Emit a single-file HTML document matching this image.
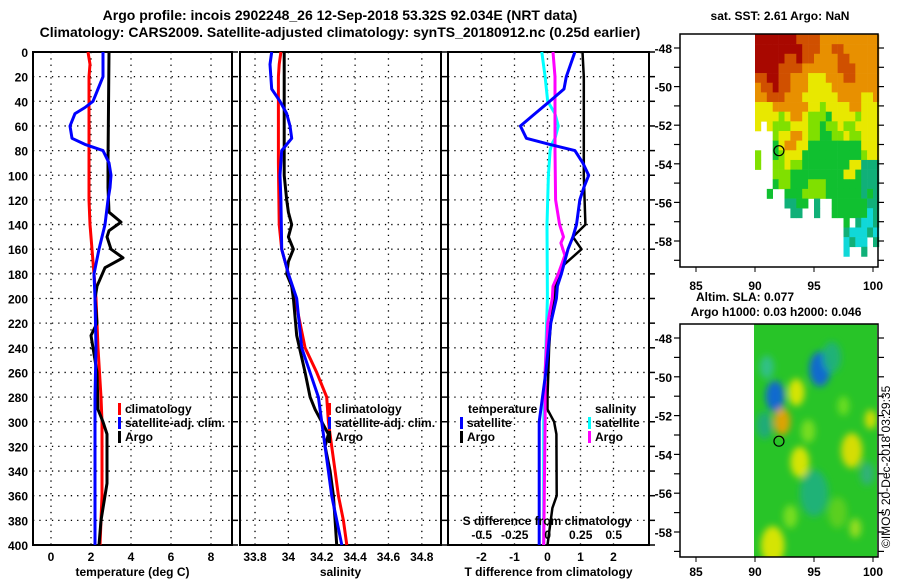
<!DOCTYPE html>
<html><head><meta charset="utf-8"><style>
html,body{margin:0;padding:0;background:#fff}
svg{display:block;font-family:"Liberation Sans",Arial,sans-serif;font-weight:bold}
</style></head><body>
<svg id="fig" width="900" height="580" viewBox="0 0 900 580" xmlns="http://www.w3.org/2000/svg">
<defs>
<filter id="blur4" x="-50%" y="-50%" width="200%" height="200%"><feGaussianBlur stdDeviation="3.5"/></filter>
<clipPath id="clipSla"><rect x="754" y="324" width="123" height="233"/></clipPath>
</defs>
<text x="340" y="20" font-size="14" text-anchor="middle">Argo profile: incois 2902248_26 12-Sep-2018 53.32S 92.034E (NRT data)</text>
<text x="340" y="37" font-size="14" text-anchor="middle">Climatology: CARS2009. Satellite-adjusted climatology: synTS_20180912.nc (0.25d earlier)</text>
<g id="panels"></g>
<g id="maps"></g>
<text transform="translate(890,548) rotate(-90)" font-size="12" font-weight="normal">©IMOS 20-Dec-2018 03:29:35</text>
</svg>
<script>
// ---------- Data ----------
const depthTicks = [0,20,40,60,80,100,120,140,160,180,200,220,240,260,280,300,320,340,360,380,400];
const tempTicks = [0,2,4,6,8];
const salTicks = [33.8,34,34.2,34.4,34.6,34.8];
const salTickLabels = ["33.8","34","34.2","34.4","34.6","34.8"];
const tdiffTicks = [-2,-1,0,1,2];
const sdiffTicks = [-0.5,-0.25,0,0.25,0.5];
const sdiffTickLabels = ["-0.5","-0.25","0","0.25","0.5"];

const climDepth = [0,10,20,60,100,120,140,160,180,200,240,280,300,360,380,400];
const climTemp  = [1.85,1.95,1.9,1.9,1.9,1.9,1.95,2.05,2.15,2.25,2.35,2.5,2.55,2.55,2.5,2.45];
const satDepth  = [0,20,30,40,45,50,60,70,75,80,90,100,110,120,140,160,180,200,240,280,400];
const satTemp   = [2.6,2.6,2.35,2.1,1.7,1.2,0.95,1.05,1.7,2.6,2.9,3.0,2.95,2.85,2.7,2.4,2.15,2.2,2.25,2.2,2.2];
const argoDepth = [0,90,110,130,138,145,150,160,167,175,190,200,220,230,240,260,290,300,310,350,360,380,400];
const argoTemp  = [2.9,2.85,2.85,2.9,3.5,2.9,2.8,3.0,3.6,2.7,2.3,2.2,2.3,2.0,2.1,2.3,2.35,2.6,2.8,2.8,2.7,2.5,2.4];

const climSalDepth = [0,10,20,90,140,160,180,200,240,260,280,300,320,340,360,380,400];
const climSal      = [33.955,33.945,33.94,33.94,33.945,33.96,34.0,34.04,34.1,34.17,34.23,34.24,34.26,34.28,34.3,34.33,34.35];
const satSalDepth  = [0,10,30,40,50,60,70,80,100,120,160,180,200,240,280,300,340,360,400];
const satSal       = [33.9,33.89,33.9,33.95,33.99,34.01,34.02,33.96,33.95,33.955,33.96,34.0,34.05,34.08,34.18,34.2,34.24,34.26,34.32];
const argoSalDepth = [0,100,120,130,140,150,160,170,180,190,200,230,260,280,290,300,310,320,340,360,380,400];
const argoSal      = [33.975,33.975,33.99,34.0,34.02,34.0,34.03,34.0,33.99,34.02,34.03,34.05,34.1,34.13,34.16,34.2,34.24,34.22,34.25,34.27,34.28,34.29];

const dTsatDepth = [0,20,30,40,50,60,70,75,80,90,100,110,120,140,150,160,170,180,190,200,220,260,300,400];
const dTsat      = [0.83,0.57,0.5,0.07,-0.38,-0.82,-0.64,0.07,0.83,1.07,1.25,1.1,0.98,0.88,0.77,0.62,0.52,0.42,0.3,0.27,0.1,-0.05,-0.25,-0.25];
const dTargoDepth = [0,20,100,140,150,160,175,190,200,220,240,280,290,300,310,360,370,390,400];
const dTargo      = [1.06,1.1,1.1,1.15,0.77,1.03,0.4,0.22,0.2,0.1,0.05,0.0,0.0,0.2,0.27,0.28,0.15,0.05,0.0];
const dSsatDepth = [0,20,40,50,60,70,75,80,100,140,200,300,400];
const dSsat      = [-0.045,-0.02,0,0.055,0.08,0.055,0.03,0.018,0.005,-0.005,-0.002,-0.03,-0.03];
const dSargoDepth = [0,20,80,120,140,150,155,165,180,190,200,220,260,300,400];
const dSargo      = [0.04,0.055,0.055,0.06,0.09,0.12,0.1,0.13,0.08,0.04,0.035,0.0,-0.02,-0.02,-0.03];

// SST map grid (0.5deg cells, lon 90..100.5, lat -47.3 downward)
const sstRows = [
"DDDDDDDRRRROOOOOOOOOO",
"DDDDDDDDRRROORROOOOOO",
"DDDDDRRDRROOOORROOOOO",
"DDDDRRRROOOOOORRROOOO",
"RRDDRROOOYYYOOORROOOO",
"ORRDRROOOYYYYOOOOOOOO",
"OORRROOOYYYYYYOOOOYYO",
"YYYOOOOOOYYLYYYYOOYYY",
"YYYYLYOOYLLLGYYYYLYYY",
"Y.YLLLYYYLLGLLYLLYYYY",
"...LYYOOYLLGGLLYLLYYY",
"...GYOOYYGGGGGGGGGYYY",
"L..GLYYYGGGGGGGGGGLYY",
"L..LLYLLGGGGGGGGYYTTT",
"...LLLGGGGGGGGGYYGTTT",
"...GLLGGGLLLGGGGGGTTT",
"..G..GGGLLLLGGGGGGTGT",
".....TTGG.T..GGGGGGTT",
"......TT..T..GGGGGGCT",
"...............G.TCCT",
"...............TCCCTC",
"...............CTCC.T",
"...............C..T.."];

// SLA features: lon, lat, radius(deg), colour
const slaLon = [95.5,91.7,92.3,93.5,93.8,98.2,91.5,99.8,96.5,95,91,97,90.8,94.5,98.5,93,97.5,99.5];
const slaLat = [-49.6,-51,-52.3,-50.8,-54.4,-53.8,-58.7,-52.2,-49,-56,-49.5,-57,-52.5,-52.8,-57.8,-57.2,-51.5,-55];
const slaR   = [0.9,0.8,0.7,0.7,0.8,0.9,1.0,0.5,0.8,1.2,0.6,0.8,0.7,0.6,0.5,0.6,0.5,0.6];
const slaCol = ["#1060e0","#1060e0","#f0a000","#e8e800","#e8e800","#e8e000","#e8e800","#e0e000","#20b080","#20b080","#30c090","#60d020","#20a880","#80e020","#a0e020","#80e020","#70e020","#30b080"];

// ---------- helpers ----------
const NS = "http://www.w3.org/2000/svg";
const panels = document.getElementById('panels');
const maps = document.getElementById('maps');
function mk(tag, attrs, parent){
  const e = document.createElementNS(NS, tag);
  for (const k in attrs) e.setAttribute(k, attrs[k]);
  parent.appendChild(e); return e;
}
const Y0 = 52, Y1 = 545;
function yD(d){ return Y0 + d*(Y1-Y0)/400; }

function panel(id, xl, xr, vmin, vmax){
  const g = mk('g', {}, panels);
  
  
  const xs = v => xl + (v-vmin)/(vmax-vmin)*(xr-xl);
  return {g, xs, xl, xr};
}
function frame(p, xticks, labels, xlabel, gridTicks){
  const g = p.g;
  (gridTicks||xticks).forEach(v => {
    const l = mk('line', {x1:p.xs(v), x2:p.xs(v), y1:Y0, y2:Y1, stroke:'#000','stroke-width':1.3,'stroke-dasharray':'1.3 5'}, g);
    
    
  });
  depthTicks.slice(1,-1).forEach(d => {
    const l = mk('line', {x1:p.xl, x2:p.xr, y1:yD(d), y2:yD(d), stroke:'#000','stroke-width':1.3,'stroke-dasharray':'1.3 5'}, g);
    
    
  });
  const r = mk('rect', {x:p.xl, y:Y0, width:p.xr-p.xl, height:Y1-Y0, fill:'none', stroke:'#000','stroke-width':2}, g);
  
  
  depthTicks.forEach(d => {
    mk('line', {x1:p.xr, x2:p.xr+6, y1:yD(d), y2:yD(d), stroke:'#000','stroke-width':1.5}, g);
  });
  if (labels) xticks.forEach((v,i) => {
    const t = mk('text', {x:p.xs(v), y:561, 'font-size':12, 'text-anchor':'middle'}, g);
    t.textContent = labels[i];
    
    
  });
  const t = mk('text', {x:(p.xl+p.xr)/2, y:576, 'font-size':12, 'text-anchor':'middle'}, g);
  t.textContent = xlabel;
  
  
}
function series(p, depths, vals, color, name, w){
  const pts = depths.map((d,i) => p.xs(vals[i]).toFixed(1)+','+yD(d).toFixed(1)).join(' ');
  const l = mk('polyline', {points:pts, fill:'none', stroke:color, 'stroke-width':w||3, 'stroke-linejoin':'round'}, p.g);
  
  
}
function legend(g, x, y, color, label, name){
  mk('rect', {x:x, y:y-10, width:3, height:12, fill:color}, g);
  const t = mk('text', {x:x+7, y:y, 'font-size':12}, g);
  t.textContent = label;
  
  
}

// depth labels
depthTicks.forEach(d => {
  const t = mk('text', {x:28, y:yD(d)+5, 'font-size':12, 'text-anchor':'end'}, panels);
  t.textContent = d;
  
  
});

// Panel 1 temperature
const p1 = panel('temperature-panel', 33, 232, -0.9, 9.05);
frame(p1, tempTicks, tempTicks.map(String), 'temperature (deg C)');
series(p1, climDepth, climTemp, '#ff0000', 'climatology-temp-line');
series(p1, argoDepth, argoTemp, '#000000', 'argo-temp-line');
series(p1, satDepth, satTemp, '#0000ff', 'satellite-temp-line');
legend(p1.g, 118, 413, '#ff0000', 'climatology', 'legend-climatology');
legend(p1.g, 118, 427, '#0000ff', 'satellite-adj. clim.', 'legend-satellite');
legend(p1.g, 118, 441, '#000000', 'Argo', 'legend-argo');

// Panel 2 salinity
const p2 = panel('salinity-panel', 240, 441, 33.71, 34.915);
frame(p2, salTicks, salTickLabels, 'salinity');
series(p2, climSalDepth, climSal, '#ff0000', 'climatology-salinity-line');
series(p2, argoSalDepth, argoSal, '#000000', 'argo-salinity-line');
series(p2, satSalDepth, satSal, '#0000ff', 'satellite-salinity-line');
legend(p2.g, 328, 413, '#ff0000', 'climatology', 'legend-climatology-2');
legend(p2.g, 328, 427, '#0000ff', 'satellite-adj. clim.', 'legend-satellite-2');
legend(p2.g, 328, 441, '#000000', 'Argo', 'legend-argo-2');

// Panel 3 differences
const p3 = panel('difference-panel', 448, 649, -3.015, 3.076);
const p3s = {g:p3.g, xs: v => 547.7 + v*132, xl:448, xr:649};
frame(p3, tdiffTicks, tdiffTicks.map(String), 'T difference from climatology', [-2,-1,0,1,2]);
series(p3, dTargoDepth, dTargo, '#000000', 'argo-t-diff-line', 2.5);
series(p3s, dSsatDepth, dSsat, '#00ffff', 'satellite-s-diff-line', 3);
series(p3s, dSargoDepth, dSargo, '#ff00ff', 'argo-s-diff-line', 3);
series(p3, dTsatDepth, dTsat, '#0000ff', 'satellite-t-diff-line', 3);
(function(){
  const g = p3.g;
  let t = mk('text', {x:468, y:413, 'font-size':12}, g); t.textContent='temperature';
   
  legend(g, 460, 427, '#0000ff', 'satellite', 'legend-t-satellite');
  legend(g, 460, 441, '#000000', 'Argo', 'legend-t-argo');
  t = mk('text', {x:595, y:413, 'font-size':12}, g); t.textContent='salinity';
   
  legend(g, 588, 427, '#00ffff', 'satellite', 'legend-s-satellite');
  legend(g, 588, 441, '#ff00ff', 'Argo', 'legend-s-argo');
  t = mk('text', {x:547, y:525, 'font-size':12, 'text-anchor':'middle'}, g); t.textContent='S difference from climatology';
   
  sdiffTicks.forEach((v,i) => {
    const s = mk('text', {x:p3s.xs(v), y:539, 'font-size':12, 'text-anchor':'middle'}, g);
    s.textContent = sdiffTickLabels[i];
    
    
  });
})();

// ---------- Maps ----------
const lonTicks = [85,90,95,100];
const latTicks = [-48,-50,-52,-54,-56,-58];
function mapFrame(name, y0, y1, lat48, lat58, labelY){
  const g = mk('g', {}, maps);
  
  
  const lx = lon => 696 + (lon-85)*11.8;
  const ly = lat => lat48 + (-48-lat)*(lat58-lat48)/10;
  return {g, lx, ly, y0, y1, labelY};
}
function mapAxes(m){
  const g = m.g;
  mk('rect', {x:680, y:m.y0, width:198, height:m.y1-m.y0, fill:'none', stroke:'#000', 'stroke-width':1.5}, g);
  for (let lat=-48; lat>=-59; lat--){
    mk('line', {x1:674, x2:680, y1:m.ly(lat), y2:m.ly(lat), stroke:'#000','stroke-width':1.2}, g);
    mk('line', {x1:878, x2:884, y1:m.ly(lat), y2:m.ly(lat), stroke:'#000','stroke-width':1.2}, g);
  }
  latTicks.forEach(lat => {
    const t = mk('text', {x:672, y:m.ly(lat)+5, 'font-size':12, 'text-anchor':'end'}, g);
    t.textContent = lat;
    
    
  });
  lonTicks.forEach(lon => {
    mk('line', {x1:m.lx(lon), x2:m.lx(lon), y1:m.y1, y2:m.y1+5, stroke:'#000'}, g);
    const t = mk('text', {x:m.lx(lon), y:m.labelY, 'font-size':12, 'text-anchor':'middle'}, g);
    t.textContent = lon;
    
    
  });
}
const sstColors = {D:'#a80800',R:'#d05000',O:'#e89000',Y:'#e8e800',L:'#80e000',G:'#10c030',T:'#10b078',C:'#10d8d8'};
const m1 = mapFrame('sst-map', 34, 267, 48, 241, 290);
sstRows.forEach((row, r) => {
  for (let c=0; c<row.length; c++){
    const ch = row[c]; if (ch==='.') continue;
    const lat = -47.3 - r*0.5, lon = 90 + c*0.5;
    const x = m1.lx(lon), y = m1.ly(lat);
    mk('rect', {x:x, y:y, width:(m1.lx(lon+0.5)-x+0.3), height:(m1.ly(lat-0.5)-y+0.3), fill:sstColors[ch]}, m1.g);
  }
});
mapAxes(m1);
mk('circle', {cx:m1.lx(92.03), cy:m1.ly(-53.32), r:5, fill:'none', stroke:'#000', 'stroke-width':1.2}, m1.g);
let tt = mk('text', {x:780, y:20, 'font-size':12, 'text-anchor':'middle'}, maps); tt.textContent='sat. SST: 2.61 Argo: NaN';
 
tt = mk('text', {x:745, y:301, 'font-size':12, 'text-anchor':'middle'}, maps); tt.textContent='Altim. SLA: 0.077';
 
tt = mk('text', {x:776, y:316, 'font-size':12, 'text-anchor':'middle'}, maps); tt.textContent='Argo h1000: 0.03 h2000: 0.046';
 

const m2 = mapFrame('sla-map', 324, 557, 338, 532, 576);
const sg = mk('g', {'clip-path':'url(#clipSla)'}, m2.g);
mk('rect', {x:754, y:324, width:124, height:233, fill:'#28c428'}, sg);
const bg = mk('g', {filter:'url(#blur4)'}, sg);
slaLon.forEach((lon,i) => {
  mk('ellipse', {cx:m2.lx(lon), cy:m2.ly(slaLat[i]), rx:slaR[i]*11.8, ry:slaR[i]*19.4, fill:slaCol[i], opacity:0.9}, bg);
});
mapAxes(m2);
mk('circle', {cx:m2.lx(92.03), cy:m2.ly(-53.32), r:5, fill:'none', stroke:'#000', 'stroke-width':1.2}, m2.g);
</script>
</body></html>
